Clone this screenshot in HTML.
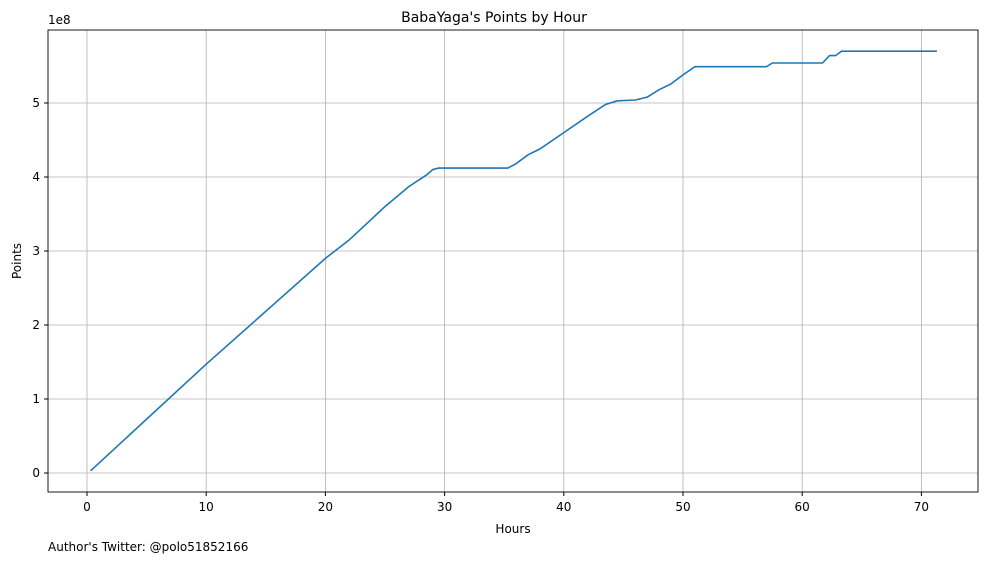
<!DOCTYPE html>
<html><head><meta charset="utf-8"><style>
body{margin:0;background:#fff;width:988px;height:562px;overflow:hidden;font-family:"DejaVu Sans","Liberation Sans",sans-serif;}
</style></head><body>
<svg width="988" height="562" xmlns="http://www.w3.org/2000/svg">
<rect width="988" height="562" fill="#fff"/>
<g id="grid"></g>
<g id="ticks" font-size="12" fill="#000"></g>
<path id="line" fill="none" stroke="#1f77b4" stroke-width="1.6"/>
<rect x="48" y="30" width="930" height="462" fill="none" stroke="#000" stroke-width="0.9"/>
<text x="494" y="22" text-anchor="middle" font-size="14">BabaYaga's Points by Hour</text>
<text x="513" y="533" text-anchor="middle" font-size="12">Hours</text>
<text transform="translate(21,261) rotate(-90)" text-anchor="middle" font-size="12">Points</text>
<text x="48" y="24" font-size="12">1e8</text>
<text x="48" y="551" font-size="12">Author's Twitter: @polo51852166</text>
</svg>
<script>
const hours=[0.3,10,20,22,25,27,28.5,29,29.5,35.3,36,37,38,40,42,43.5,44.5,46,47,48,49,50,51,57,57.5,61.7,62.3,62.8,63.3,71.3];
const points=[0.03,1.47,2.9,3.15,3.6,3.87,4.03,4.1,4.12,4.12,4.18,4.3,4.38,4.6,4.82,4.98,5.03,5.04,5.08,5.18,5.26,5.38,5.49,5.49,5.54,5.54,5.64,5.64,5.70,5.70];
const xTicks=[0,10,20,30,40,50,60,70];
const yTicks=[0,1,2,3,4,5];
const X=h=>87+h*11.92;
const Y=v=>473-v*74;
const ns="http://www.w3.org/2000/svg";
const g=document.getElementById('grid'),t=document.getElementById('ticks');
xTicks.forEach(v=>{
 const l=document.createElementNS(ns,'line');
 l.setAttribute('x1',X(v));l.setAttribute('x2',X(v));l.setAttribute('y1',30);l.setAttribute('y2',492);
 l.setAttribute('stroke','#b0b0b0');l.setAttribute('stroke-width','0.8');
 
 
 g.appendChild(l);
 const k=document.createElementNS(ns,'line');
 k.setAttribute('x1',X(v));k.setAttribute('x2',X(v));k.setAttribute('y1',492);k.setAttribute('y2',496);k.setAttribute('stroke','#000');
 
 
 t.appendChild(k);
 const s=document.createElementNS(ns,'text');
 s.setAttribute('x',X(v));s.setAttribute('y',511);s.setAttribute('text-anchor','middle');s.textContent=v;
 
 
 t.appendChild(s);
});
yTicks.forEach(v=>{
 const l=document.createElementNS(ns,'line');
 l.setAttribute('x1',48);l.setAttribute('x2',978);l.setAttribute('y1',Y(v));l.setAttribute('y2',Y(v));
 l.setAttribute('stroke','#b0b0b0');l.setAttribute('stroke-width','0.8');
 
 
 g.appendChild(l);
 const k=document.createElementNS(ns,'line');
 k.setAttribute('x1',44);k.setAttribute('x2',48);k.setAttribute('y1',Y(v));k.setAttribute('y2',Y(v));k.setAttribute('stroke','#000');
 
 
 t.appendChild(k);
 const s=document.createElementNS(ns,'text');
 s.setAttribute('x',40);s.setAttribute('y',Y(v)+4);s.setAttribute('text-anchor','end');s.textContent=v;
 
 
 t.appendChild(s);
});
document.getElementById('line').setAttribute('d',hours.map((h,i)=>(i?'L':'M')+X(h).toFixed(1)+','+Y(points[i]).toFixed(1)).join(''));
</script>
</body></html>
